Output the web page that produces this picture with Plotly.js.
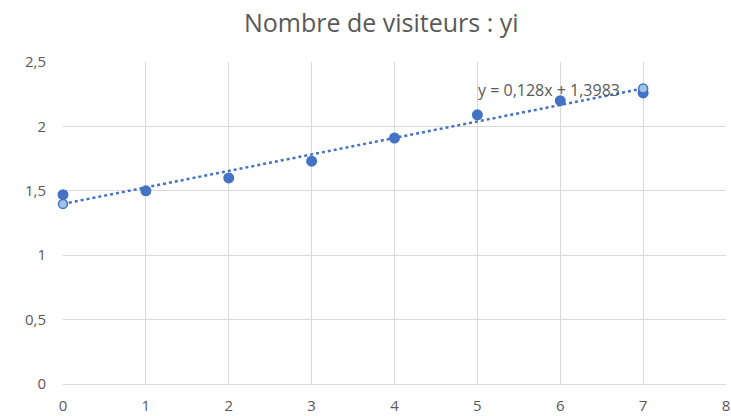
<!DOCTYPE html>
<html>
<head>
<meta charset="utf-8">
<script src="https://cdn.plot.ly/plotly-3.0.1.min.js"></script>
<style>html,body{margin:0;padding:0;background:#fff;}#chart{width:731px;height:416px;}</style>
</head>
<body>
<div id="chart"></div>
<script>
var xValues = [0, 1, 2, 3, 4, 5, 6, 7];
var yValues = [1.47, 1.50, 1.60, 1.73, 1.91, 2.09, 2.20, 2.26];
var trendX = [0, 7];
var trendY = [1.3983, 2.2943];
var trendLabel = "y = 0,128x + 1,3983";
var chartTitle = "Nombre de visiteurs : yi";

var font = "'Open Sans', sans-serif";

var traces = [
  {
    x: trendX, y: trendY, type: 'scatter', mode: 'lines',
    line: {color: '#4472C4', width: 2.5, dash: 'dot'},
    hoverinfo: 'skip', cliponaxis: false
  },
  {
    x: xValues, y: yValues, type: 'scatter', mode: 'markers',
    marker: {color: '#4472C4', size: 11},
    cliponaxis: false
  },
  {
    x: trendX, y: trendY, type: 'scatter', mode: 'markers',
    marker: {color: '#9DC3E6', size: 9, line: {color: '#4472C4', width: 1.5}},
    cliponaxis: false
  }
];

var layout = {
  width: 731, height: 416,
  margin: {l: 63, r: 5, t: 62, b: 32},
  paper_bgcolor: '#fff', plot_bgcolor: '#fff',
  showlegend: false,
  separators: ', ',
  title: {text: chartTitle, x: 0.48, xref: 'paper', xanchor: 'center', y: 0.945, yanchor: 'middle',
          font: {family: font, size: 25, color: '#595959'}},
  xaxis: {
    range: [0, 8], dtick: 1, tick0: 0,
    showgrid: true, gridcolor: '#d9d9d9', gridwidth: 1,
    zeroline: false, showline: true, linecolor: '#d9d9d9', linewidth: 1,
    ticks: '', ticklabelstandoff: 8, tickfont: {family: font, size: 15, color: '#595959'},
    fixedrange: true
  },
  yaxis: {
    range: [0, 2.5], dtick: 0.5, tick0: 0,
    showgrid: true, gridcolor: '#d9d9d9', gridwidth: 1,
    zeroline: false, showline: false,
    ticks: '', ticklabelstandoff: 16, tickfont: {family: font, size: 15, color: '#595959'},
    fixedrange: true
  },
  annotations: [{
    x: 5.86, y: 2.283, xref: 'x', yref: 'y', text: trendLabel, showarrow: false,
    xanchor: 'center', yanchor: 'middle',
    font: {family: font, size: 16, color: '#595959'}
  }]
};

Plotly.newPlot('chart', traces, layout, {displayModeBar: false, staticPlot: true});
</script>
</body>
</html>
